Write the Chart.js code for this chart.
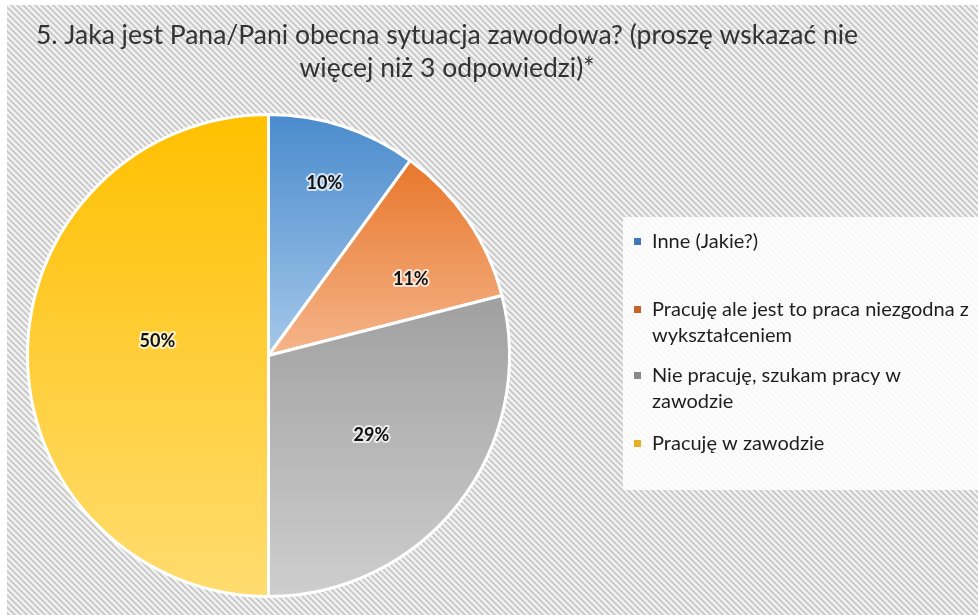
<!DOCTYPE html>
<html>
<head>
<meta charset="utf-8">
<script src="https://cdn.jsdelivr.net/npm/chart.js@4.4.1/dist/chart.umd.min.js"></script>
<style>
html,body{margin:0;padding:0;background:#fff;}
#wrap{width:978px;height:615px;position:relative;}
</style>
</head>
<body>
<div id="wrap"><canvas id="c" width="978" height="615"></canvas></div>
<script>
// ---- data ----
const titleLines = ['5. Jaka jest Pana/Pani obecna sytuacja zawodowa? (proszę wskazać nie', 'więcej niż 3 odpowiedzi)*'];
const categories = ['Inne (Jakie?)', 'Pracuję ale jest to praca niezgodna z wykształceniem', 'Nie pracuję, szukam pracy w zawodzie', 'Pracuję w zawodzie'];
const legendLines = [['Inne (Jakie?)'], ['Pracuję ale jest to praca niezgodna z', 'wykształceniem'], ['Nie pracuję, szukam pracy w', 'zawodzie'], ['Pracuję w zawodzie']];
const values = [10, 11, 29, 50];
const valueLabels = ['10%', '11%', '29%', '50%'];

// ---- styles ----
const gradTop = ['#4a8bcd', '#e8772c', '#a0a0a0', '#ffc000'];
const gradBottom = ['#a5c8ea', '#f5b58b', '#cecece', '#ffdc70'];
const markerColors = ['#3f78b8', '#c9622a', '#8a8a8a', '#e6ae22'];
const labelRadiusFrac = [0.75, 0.67, 0.54, 0.465];
const labelAngleShift = [0, 6, 0, 7.5];

function sliceGradient(context) {
  const chart = context.chart;
  const area = chart.chartArea;
  const i = context.dataIndex;
  if (!area) return gradTop[i];
  const cx = (area.left + area.right) / 2, cy = (area.top + area.bottom) / 2;
  const r = (Math.min(area.width, area.height) - 3) / 2;
  const total = values.reduce((a, b) => a + b, 0);
  let cum = 0;
  for (let k = 0; k < i; k++) cum += values[k];
  const a0 = -Math.PI / 2 + cum / total * Math.PI * 2;
  const a1 = a0 + values[i] / total * Math.PI * 2;
  const ys = [cy, cy + r * Math.sin(a0), cy + r * Math.sin(a1)];
  const inRange = (a) => { for (let t = a - 4 * Math.PI; t <= a + 4 * Math.PI; t += 2 * Math.PI) { if (t >= a0 - 1e-9 && t <= a1 + 1e-9) return true; } return false; };
  if (inRange(Math.PI / 2)) ys.push(cy + r);
  if (inRange(-Math.PI / 2)) ys.push(cy - r);
  const y0 = Math.min(...ys), y1 = Math.max(...ys);
  const g = chart.ctx.createLinearGradient(0, y0, 0, y1);
  g.addColorStop(0, gradTop[i]);
  g.addColorStop(1, gradBottom[i]);
  return g;
}

const bgPlugin = {
  id: 'bgPlugin',
  beforeDraw(chart) {
    const ctx = chart.ctx;
    ctx.save();
    ctx.fillStyle = '#ffffff';
    ctx.fillRect(0, 0, chart.width, chart.height);
    const tile = document.createElement('canvas');
    tile.width = 6; tile.height = 6;
    const t = tile.getContext('2d');
    t.fillStyle = '#f4f4f4';
    t.fillRect(0, 0, 6, 6);
    t.strokeStyle = '#cbcbcb';
    t.lineWidth = 2.1;
    t.beginPath();
    for (const k of [-6, 0, 6]) { t.moveTo(-1, k - 1); t.lineTo(7, k + 7); }
    t.stroke();
    ctx.fillStyle = ctx.createPattern(tile, 'repeat');
    ctx.fillRect(7, 5, chart.width - 7, chart.height - 5);
    // legend box
    ctx.fillStyle = 'rgba(255,255,255,0.86)';
    ctx.fillRect(623, 217, chart.width - 623, 273);
    // title
    ctx.fillStyle = '#333333';
    ctx.font = '26.5px Lato';
    ctx.textAlign = 'center';
    ctx.textBaseline = 'middle';
    ctx.fillText(titleLines[0], 447, 35);
    ctx.fillText(titleLines[1], 447, 68);
    // legend
    ctx.textAlign = 'left';
    ctx.font = '20px Lato';
    const itemY = [[242], [310, 336], [376, 402], [444]];
    legendLines.forEach((lines, i) => {
      ctx.fillStyle = markerColors[i];
      ctx.fillRect(634, itemY[i][0] - 4, 7, 7);
      ctx.fillStyle = '#1e1e1e';
      lines.forEach((ln, j) => ctx.fillText(ln, 652, itemY[i][j]));
    });
    ctx.restore();
  }
};

const labelPlugin = {
  id: 'labelPlugin',
  afterDatasetsDraw(chart) {
    const ctx = chart.ctx;
    const meta = chart.getDatasetMeta(0);
    ctx.save();
    ctx.font = 'bold 18px Lato';
    ctx.textAlign = 'center';
    ctx.textBaseline = 'middle';
    meta.data.forEach((arc, i) => {
      const mid = (arc.startAngle + arc.endAngle) / 2 + labelAngleShift[i] * Math.PI / 180;
      const rr = arc.outerRadius * labelRadiusFrac[i];
      const x = arc.x + Math.cos(mid) * rr;
      const y = arc.y + Math.sin(mid) * rr;
      ctx.lineJoin = 'round';
      ctx.strokeStyle = 'rgba(255,255,255,0.7)';
      ctx.lineWidth = 4;
      ctx.strokeText(valueLabels[i], x, y);
      ctx.fillStyle = '#111111';
      ctx.fillText(valueLabels[i], x, y);
    });
    ctx.restore();
  }
};

new Chart(document.getElementById('c'), {
  type: 'pie',
  data: {
    labels: categories,
    datasets: [{
      data: values,
      backgroundColor: sliceGradient,
      borderColor: '#ffffff',
      borderWidth: 3
    }]
  },
  options: {
    responsive: false,
    animation: false,
    layout: { padding: { left: 26, right: 467, top: 113, bottom: 17 } },
    plugins: {
      legend: { display: false },
      title: { display: false },
      tooltip: { enabled: false }
    }
  },
  plugins: [bgPlugin, labelPlugin]
});
</script>
</body>
</html>
